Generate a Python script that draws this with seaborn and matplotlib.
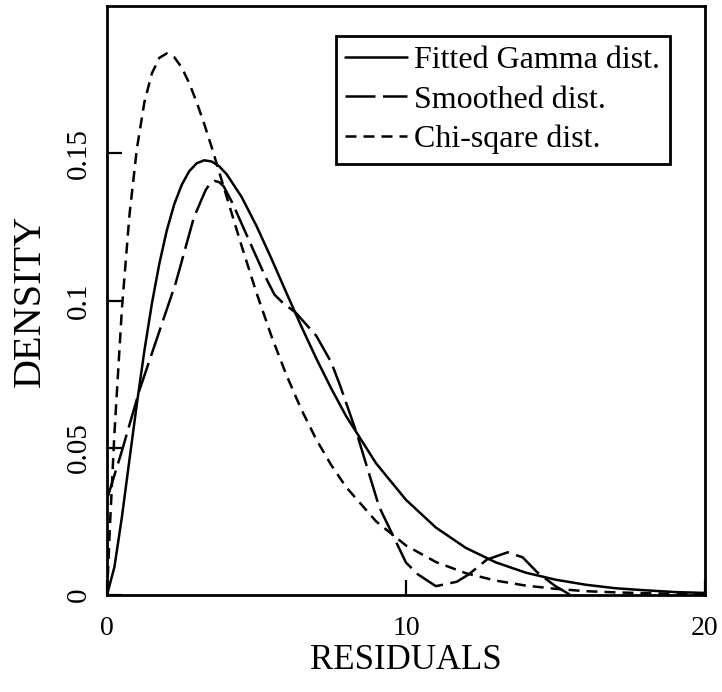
import matplotlib
matplotlib.use("Agg")
import matplotlib.pyplot as plt
import seaborn as sns

# values
gamma_x = [0, 0.25, 0.5, 0.75, 1, 1.25, 1.5, 1.75, 2, 2.25, 2.5, 2.75, 3, 3.25,
           3.5, 3.75, 4, 4.5, 5, 5.5, 6, 6.5, 7, 7.5, 8, 9, 10, 11, 12, 13,
           14, 15, 16, 17, 18, 19, 20]
gamma_y = [0, 0.0096, 0.0266, 0.0459, 0.0650, 0.0829, 0.0989, 0.1125, 0.1238,
           0.1327, 0.1393, 0.1439, 0.1466, 0.1476, 0.1472, 0.1456, 0.1429,
           0.1352, 0.1253, 0.1142, 0.1026, 0.0912, 0.0803, 0.0701, 0.0607,
           0.0447, 0.0323, 0.0229, 0.0160, 0.0111, 0.0076, 0.0052, 0.0035,
           0.0023, 0.0016, 0.0010, 0.0007]

smooth_x = [0, 0.5, 1.1, 1.7, 2.3, 2.9, 3.15, 3.3, 3.45, 3.6, 3.75, 3.9, 4.2,
            4.9, 5.3, 5.6, 5.9, 6.3, 7.0, 7.5, 7.8, 8.35, 9.1, 10.0, 10.4, 11.0,
            11.7, 12.1, 12.7, 13.4, 13.9, 14.4, 15.0, 15.5]
smooth_y = [0.0325, 0.049, 0.070, 0.088, 0.106, 0.128, 0.134, 0.1375, 0.1398,
            0.1406, 0.1402, 0.1388, 0.133, 0.117, 0.108, 0.102, 0.099, 0.096,
            0.088, 0.079, 0.071, 0.055, 0.030, 0.011, 0.007, 0.003, 0.0045,
            0.0070, 0.012, 0.0145, 0.0128, 0.0076, 0.003, 0.0]

chi_x = [0, 0.1, 0.25, 0.5, 0.75, 1, 1.25, 1.5, 1.75, 2, 2.25, 2.5, 2.75, 3,
         3.25, 3.5, 4, 4.5, 5, 5.5, 6, 6.5, 7, 7.5, 8, 9, 10, 11, 12, 13, 14,
         15, 16, 17, 18, 19, 20]
chi_y = [0, 0.0238, 0.0552, 0.0974, 0.1289, 0.1516, 0.1673, 0.1771, 0.1824,
         0.1839, 0.1826, 0.1791, 0.1738, 0.1673, 0.1600, 0.1521, 0.1353,
         0.1186, 0.1026, 0.0879, 0.0747, 0.0630, 0.0528, 0.0441, 0.0366,
         0.0250, 0.0168, 0.0112, 0.0074, 0.0049, 0.0032, 0.0021, 0.0013,
         0.0009, 0.0006, 0.0004, 0.0002]

labels = ["Fitted Gamma dist.", "Smoothed dist.", "Chi-sqare dist."]
x_ticks = [0, 10, 20]
y_ticks = [0, 0.05, 0.1, 0.15]
y_tick_labels = ["0", "0.05", "0.1", "0.15"]

sns.set_style("white")
plt.rcParams["font.family"] = ["Liberation Serif", "DejaVu Serif"]
plt.rcParams["text.color"] = "black"
plt.rcParams["axes.labelcolor"] = "black"
plt.rcParams["xtick.color"] = "black"
plt.rcParams["ytick.color"] = "black"

fig = plt.figure(figsize=(7.22, 6.92), dpi=100)
ax = fig.add_axes([107 / 722, 97 / 692, 598 / 722, 589 / 692])

lw = 1.8
sns.lineplot(x=gamma_x, y=gamma_y, ax=ax, color="black", lw=lw,
             estimator=None, label=labels[0])
sns.lineplot(x=smooth_x, y=smooth_y, ax=ax, color="black", lw=lw,
             estimator=None, label=labels[1], linestyle=(0, (12, 3)))
sns.lineplot(x=chi_x, y=chi_y, ax=ax, color="black", lw=lw,
             estimator=None, label=labels[2], linestyle=(0, (4.4, 2.8)))

ax.set_xlim(0, 20)
ax.set_ylim(0, 0.2)
ax.set_xticks(x_ticks)
ax.set_xticklabels([str(t) for t in x_ticks])
ax.set_yticks(y_ticks)
ax.set_yticklabels(y_tick_labels, rotation=90, va="center")

for s in ax.spines.values():
    s.set_color("black")
    s.set_linewidth(2)

ax.tick_params(axis="both", direction="in", length=11, width=1.6,
               color="black", labelcolor="black", bottom=True, left=True)
ax.tick_params(axis="x", labelsize=20, pad=15)
ax.tick_params(axis="y", labelsize=21, pad=11)

ax.set_xlabel("RESIDUALS", fontsize=25, labelpad=2, color="black")
ax.set_ylabel("DENSITY", fontsize=29, labelpad=12, color="black")

leg = ax.legend(loc="upper right", bbox_to_anchor=(0.9415, 0.949),
                borderaxespad=0, fontsize=23, frameon=True, fancybox=False,
                handlelength=1.95, handletextpad=0.22, labelspacing=0.32,
                borderpad=0.3)
leg.get_frame().set_edgecolor("black")
leg.get_frame().set_linewidth(2)
leg.get_frame().set_alpha(1)
for t in leg.get_texts():
    t.set_color("black")

fig.savefig("out.png", dpi=100)
